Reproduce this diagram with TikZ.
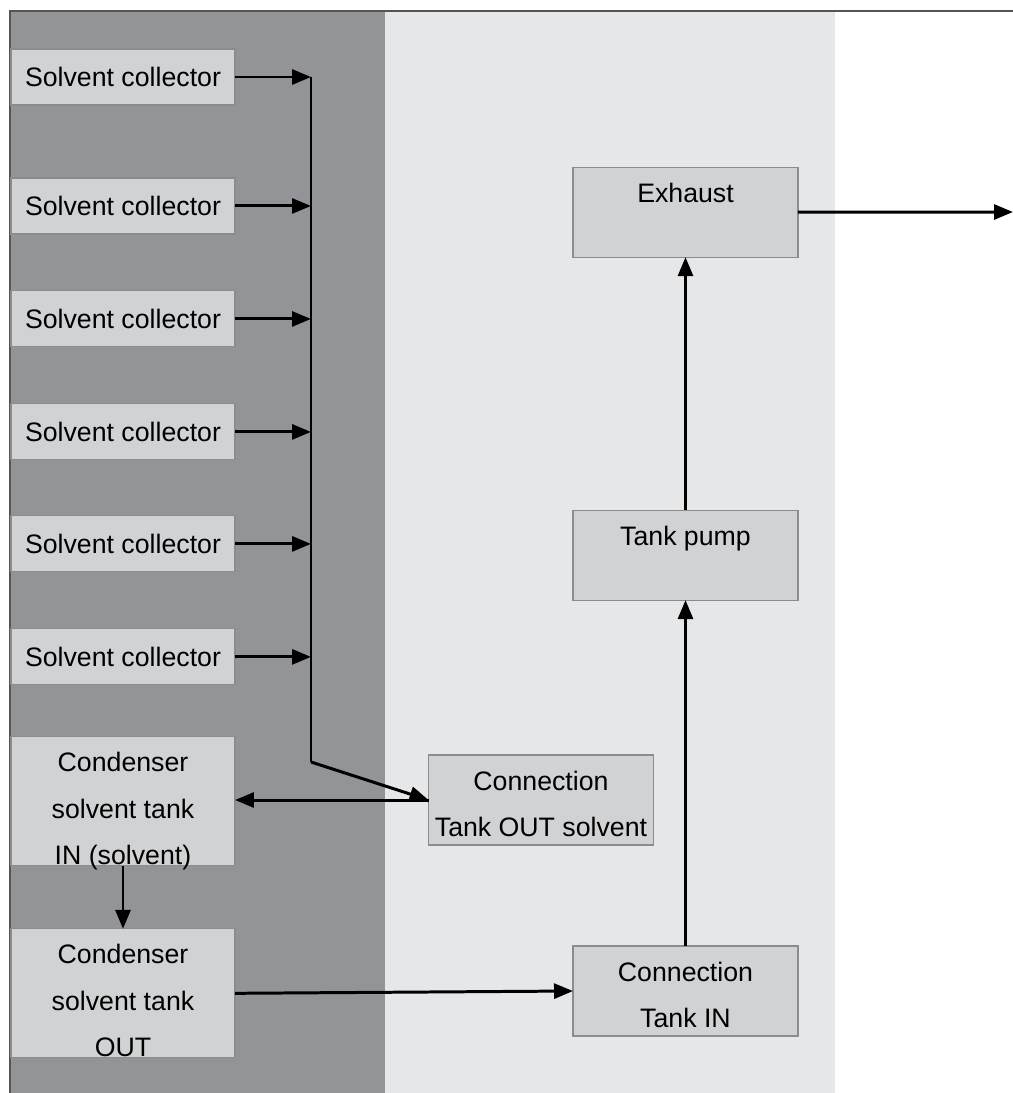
\documentclass[tikz,border=0pt]{standalone}
\usepackage{fontspec}
\setmainfont{Liberation Sans}
\usepackage{tikz}
\usetikzlibrary{positioning,arrows.meta}
\definecolor{darkzone}{RGB}{147,148,151}
\definecolor{lightzone}{RGB}{230,231,233}
\definecolor{boxfill}{RGB}{209,210,212}
\definecolor{boxline}{RGB}{140,140,140}
\definecolor{frameline}{RGB}{85,85,85}
\newcommand{\padtall}{\rule{0pt}{19pt}}
\newcommand{\padshort}{\rule{0pt}{15.5pt}}
\begin{document}
\begin{tikzpicture}[
    x=0.02cm, y=-0.02cm,
    font=\fontsize{15.2}{26.7}\selectfont,
    >={Triangle[length=0.38cm,width=0.3cm]},
    block/.style={
        draw=boxline,
        fill=boxfill,
        line width=0.6pt,
        minimum width=4.48cm,
        inner sep=0pt,
        outer sep=0pt,
        align=center
    },
    collector/.style={block, minimum height=1.12cm},
    condenser/.style={block, minimum height=2.58cm, text depth=0pt},
    connbox/.style={block, minimum width=4.5cm, minimum height=1.8cm},
    flow/.style={->, line width=1.7pt}
]
\useasboundingbox (0,0) rectangle (1013,1093);

% Background
\fill[darkzone] (10,11) rectangle (385,1093);
\fill[lightzone] (385,11) rectangle (835,1093);
\draw[frameline, line width=0.6pt] (10,1093) -- (10,11) -- (1013,11);

% Nodes
\node [collector] (col1) at (123,77) {Solvent collector};
\node [collector, below=1.46cm of col1] (col2) {Solvent collector};
\node [collector, below=1.14cm of col2] (col3) {Solvent collector};
\node [collector, below=1.14cm of col3] (col4) {Solvent collector};
\node [collector, below=1.12cm of col4] (col5) {Solvent collector};
\node [collector, below=1.14cm of col5] (col6) {Solvent collector};
\node [condenser, below=1.04cm of col6] (condin)
    {\padtall Condenser\\solvent tank\\IN (solvent)};
\node [condenser, below=1.26cm of condin] (condout)
    {\padtall Condenser\\solvent tank\\OUT};
\node [connbox] (connout) at (541,800) {\padshort Connection\\Tank OUT solvent};
\node [connbox] (connin) at (685.5,991) {\padshort Connection\\Tank IN};
\node [connbox, above=6.92cm of connin] (pump) {\padshort Tank pump\\ \mbox{}};
\node [connbox, above=5.06cm of pump] (exhaust) {\padshort Exhaust\\ \mbox{}};
\coordinate (bustop) at (311,77);
\coordinate (busend) at (311,762);
\coordinate (outlet) at (1013,212);

% Arrows
\draw [flow] (col1.east) -- (bustop);
\draw [flow] (col2.east) -- (col2.east -| bustop);
\draw [flow] (col3.east) -- (col3.east -| bustop);
\draw [flow] (col4.east) -- (col4.east -| bustop);
\draw [flow] (col5.east) -- (col5.east -| bustop);
\draw [flow] (col6.east) -- (col6.east -| bustop);
\draw [line width=1.7pt] (bustop) -- (busend);
\draw [flow] (busend) -- (connout.west);
\draw [flow] (connout.west) -- (condin.east |- connout.west);
\draw [flow] (condin.south) -- (condout.north);
\draw [flow] (condout.east) -- (connin.west);
\draw [flow] (connin.north) -- (pump.south);
\draw [flow] (pump.north) -- (exhaust.south);
\draw [flow] (exhaust.east) -- (outlet);

\end{tikzpicture}
\end{document}
